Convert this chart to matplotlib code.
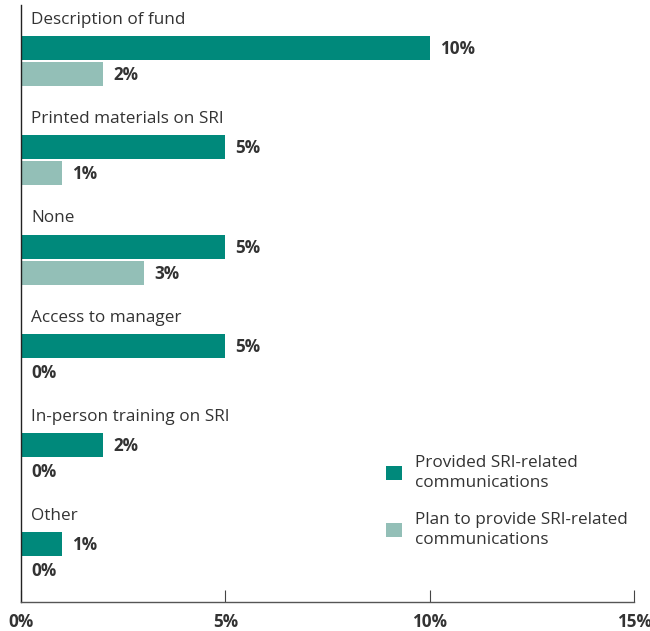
import matplotlib
matplotlib.use("Agg")
import matplotlib.pyplot as plt
from matplotlib.patches import Patch

categories = ["Description of fund", "Printed materials on SRI", "None",
              "Access to manager", "In-person training on SRI", "Other"]
provided = [10, 5, 5, 5, 2, 1]
plan = [2, 1, 3, 0, 0, 0]
series_names = ["Provided SRI-related\ncommunications",
                "Plan to provide SRI-related\ncommunications"]
xticks = [0, 5, 10, 15]
xtick_labels = ["0%", "5%", "10%", "15%"]

dark = "#00897B"
light = "#93BFB7"
txt = "#333333"
FONT = ["Open Sans", "DejaVu Sans"]
FS = 12.3

fig = plt.figure(figsize=(6.5, 6.31), dpi=100)
ax = fig.add_axes([21/650, 29/631, 613/650, 597/631])

h = 0.242
off = 0.262
for i, (cat, p, q) in enumerate(zip(categories, provided, plan)):
    ax.barh(i, p, height=h, color=dark)
    ax.barh(i + off, q, height=h, color=light)
    ax.text(0.25, i - 0.285, cat, ha="left", va="center", fontsize=FS,
            color=txt, family=FONT)
    ax.text(p + 0.25 if p > 0 else 0.25, i + 0.01, f"{p}%", ha="left", va="center",
            fontsize=FS, fontweight="bold", color=txt, family=FONT)
    ax.text(q + 0.25 if q > 0 else 0.25, i + off + 0.01, f"{q}%", ha="left", va="center",
            fontsize=FS, fontweight="bold", color=txt, family=FONT)

ax.set_xlim(0, 15)
ax.set_ylim(5.58, -0.433)
ax.set_yticks([])
ax.set_xticks(xticks)
ax.set_xticklabels(xtick_labels)
ax.tick_params(axis="x", direction="in", length=8.6, width=0.8, color="#444444",
               pad=8)
for lbl in ax.get_xticklabels():
    lbl.set_fontweight("bold"); lbl.set_family(FONT); lbl.set_fontsize(FS); lbl.set_color(txt)
for s in ["top", "right"]:
    ax.spines[s].set_visible(False)
ax.spines["left"].set_color("#222222")
ax.spines["left"].set_linewidth(1.0)
ax.spines["bottom"].set_color("#555555")
ax.spines["bottom"].set_linewidth(1.0)

handles = [Patch(facecolor=dark, edgecolor="none"),
           Patch(facecolor=light, edgecolor="none")]
leg = ax.legend(handles, series_names, loc="upper left",
                bbox_to_anchor=(350/613, (602-440)/597), frameon=False,
                handlelength=0.9, handleheight=0.9, handletextpad=0.75,
                labelspacing=1.25, prop={"family": FONT, "size": FS},
                labelcolor=txt)
for t in leg.get_texts():
    t.set_linespacing(1.3)

fig.savefig("out.png", dpi=100)
